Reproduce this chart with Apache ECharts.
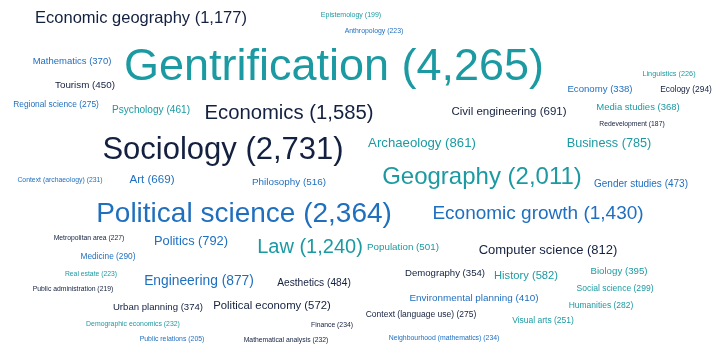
<!DOCTYPE html>
<html><head><meta charset="utf-8">
<script src="https://cdn.jsdelivr.net/npm/echarts@6/dist/echarts.min.js"></script>
<style>html,body{margin:0;padding:0;background:#fff}#c{width:721px;height:362px}</style>
</head><body><div id="c"></div>
<script>
// Data: research topics and their counts
const terms = ["Economic geography","Gentrification","Sociology","Political science","Geography","Economics","Economic growth","Law","Archaeology","Business","Civil engineering","Computer science","Engineering","Politics","Political economy","Aesthetics","Art","Philosophy","Psychology","Tourism","Mathematics","Regional science","Epistemology","Anthropology","Linguistics","Economy","Ecology","Media studies","Redevelopment","Gender studies","Context (archaeology)","Metropolitan area","Medicine","Real estate","Public administration","Urban planning","Demographic economics","Public relations","Finance","Mathematical analysis","Population","Demography","History","Biology","Social science","Environmental planning","Humanities","Context (language use)","Visual arts","Neighbourhood (mathematics)"];
const counts = [1177,4265,2731,2364,2011,1585,1430,1240,861,785,691,812,877,792,572,484,669,516,461,450,370,275,199,223,226,338,294,368,187,473,231,227,290,223,219,374,232,205,234,232,501,354,582,395,299,410,282,275,251,234];

// Layout (word-cloud placement, in pixel space of hidden axes): centre x, centre y
const posX = [141,334,223,244,482,289,538,310,422,609,509,548,199,191,272,314,152,289,151,85,72,56,351,374,669,600,686,638,632,641,60,89,108,91,73,158,133,172,332,286,403,445,526,619,615,474,601,421,543,444];
const posY = [18,68,150,214,177,113,214,247,143,143,112,250,281,241,306,283,180,182,110,85,61,105,15,31,74,89,90,107,124,184,180,238,257,274,289,307,324,339,325,340,247,273,276,271,289,298,306,315,321,338];
// Label font sizes (px)
const sizes = [16.5,45,31,28,24,20.3,19,20,13.2,12.7,11.5,13,13.8,12.8,11.3,10.2,11.6,9.9,10.1,9.8,9.5,8.4,7,6.9,7.3,9.6,8.4,9.5,6.8,10,6.85,6.8,8.3,6.8,6.8,9.6,6.9,6.9,6.8,6.8,9.8,9.6,11.2,9.7,8.55,9.9,8.5,8.5,8.5,6.9];
// Colour group: 0 navy, 1 teal, 2 blue
const groups = [0,1,0,2,1,0,2,1,1,1,0,0,2,2,0,0,2,2,1,0,2,2,1,2,1,2,0,1,0,2,2,0,2,1,0,0,1,2,0,0,1,0,1,1,1,2,1,0,1,2];
const palette = ["#13203f","#1c9aa2","#1f6fbf"];

const fmt = n => n.toLocaleString('en-US');
const data = terms.map((t, i) => ({
  value: [posX[i], posY[i]],
  name: t + " (" + fmt(counts[i]) + ")",
  label: { fontSize: sizes[i], color: palette[groups[i]] }
}));

const chart = echarts.init(document.getElementById('c'), null, {renderer: 'canvas'});
chart.setOption({
  animation: false,
  grid: {left: 0, right: 0, top: 0, bottom: 0},
  xAxis: {type: 'value', min: 0, max: 721, show: false},
  yAxis: {type: 'value', min: 0, max: 362, inverse: true, show: false},
  series: [{
    type: 'scatter',
    symbolSize: 1,
    itemStyle: {color: 'rgba(0,0,0,0)'},
    data: data,
    label: {
      show: true,
      position: 'inside',
      align: 'center',
      verticalAlign: 'middle',
      opacity: 1,
      fontFamily: 'Arial, "Liberation Sans", sans-serif',
      formatter: p => p.name
    },
    labelLayout: {hideOverlap: false}
  }]
});
</script></body></html>
